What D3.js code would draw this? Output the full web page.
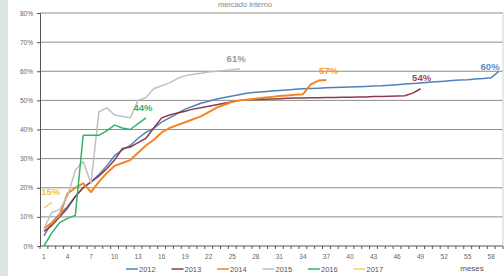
<!DOCTYPE html>
<html>
<head>
<meta charset="utf-8">
<script src="https://cdn.jsdelivr.net/npm/d3@7"></script>
<style>
  body { margin: 0; background: #fff; }
  svg { display: block; font-family: "Liberation Sans", Arial, sans-serif; }
</style>
</head>
<body>
<svg id="svg" width="504" height="276"></svg>
<script>
// months on the category axis and the labelled ones
const months = d3.range(1, 60);
const monthLabels = d3.range(1, 59, 3);
const yTicks = [0, 10, 20, 30, 40, 50, 60, 70, 80];

const years = ['2012', '2013', '2014', '2015', '2016', '2017'];
const colors = ['#4f81bd', '#8e3a4c', '#f3861f', '#c0c0c0', '#2fb56a', '#fad160'];
const labelColors = ['#5b8cc8', '#a04458', '#f39a3a', '#9a9a9a', '#2fb56a', '#f2c443'];
const endLabels = ['60%', '54%', '57%', '61%', '44%', '15%'];

const s2012 = [3.5, 8, 11, 13.5, 17, 20, 22, 24.5, 27.5, 31, 33, 34.5, 37, 39, 40.5, 42.5, 44, 45.5, 47, 48,
  49, 49.7, 50.5, 51, 51.5, 52, 52.5, 52.8, 53, 53.2, 53.4, 53.6, 53.8, 54, 54.1, 54.2, 54.3, 54.4, 54.5, 54.6,
  54.7, 54.8, 54.9, 55, 55.2, 55.4, 55.6, 55.8, 56, 56.2, 56.4, 56.6, 56.8, 57, 57.1, 57.3, 57.5, 57.8, 60];
const s2013 = [5, 7, 10, 13, 17, 20, 22, 24, 26.5, 29.5, 33.5, 34, 35.5, 37, 40.5, 44, 45, 45.7, 46.3, 47,
  47.5, 48, 48.5, 49, 49.5, 50, 50.2, 50.3, 50.4, 50.5, 50.6, 50.7, 50.8, 50.8, 50.9, 50.9, 51, 51, 51.1, 51.1,
  51.2, 51.2, 51.3, 51.3, 51.4, 51.5, 51.6, 52.5, 54];
const s2014 = [6, 8, 10.5, 18, 20, 21.5, 18.5, 22, 25, 27.5, 28.5, 29.5, 32, 34.5, 36.5, 39, 40.5, 41.5, 42.5, 43.5,
  44.5, 46, 47.5, 48.5, 49.5, 50, 50.3, 50.6, 50.9, 51.2, 51.5, 51.7, 51.9, 52.1, 55.5, 56.8, 57];
const s2015 = [6, 11.5, 12.5, 17, 26, 29, 21.5, 46, 47.5, 45, 44.5, 44, 50, 51, 54, 55, 56, 57.5, 58.5, 59,
  59.3, 59.7, 60, 60.3, 60.5, 60.8];
const s2016 = [0, 4.5, 8, 9.5, 10.5, 38, 38, 38, 39.5, 41.5, 40.5, 40, 42, 44];
const s2017 = [13, 15];

const series = [s2012, s2013, s2014, s2015, s2016, s2017];
// pixel offsets of the end labels from each series' last point
const labelOffsets = [[-9, -1], [1, -8], [2, -6], [-4, -7], [-3, -7], [-1, -7]];

const svg = d3.select('#svg');
const plotLeft = 40, plotRight = 503, plotTop = 13, plotBottom = 246;

svg.append('rect').attr('x', 0).attr('y', 0).attr('width', 8).attr('height', 276).attr('fill', '#dbe4df');

svg.append('text').attr('x', 245).attr('y', 7).attr('text-anchor', 'middle')
  .attr('font-size', 7.5).attr('fill', '#888').text('mercado interno');

const band = d3.scaleBand().domain(months).range([plotLeft, plotRight]);
const x = d3.scalePoint().domain(months).range([plotLeft, plotRight]).padding(0.5);
const y = d3.scaleLinear().domain([0, 80]).range([plotBottom, plotTop]);

// grid
svg.append('g').selectAll('line').data(yTicks.filter(d => d > 0)).enter().append('line')
  .attr('x1', plotLeft).attr('x2', plotRight).attr('y1', d => y(d)).attr('y2', d => y(d))
  .attr('stroke', '#8c8c8c').attr('stroke-width', 1);
svg.append('line').attr('x1', plotRight).attr('x2', plotRight).attr('y1', plotTop).attr('y2', plotBottom)
  .attr('stroke', '#d0d0d0');

// y axis
const yAxis = svg.append('g').attr('transform', `translate(${plotLeft},0)`)
  .call(d3.axisLeft(y).tickValues(yTicks).tickSize(3).tickFormat(d => d + '%'));
yAxis.select('.domain').attr('stroke', '#555');
yAxis.selectAll('.tick line').attr('stroke', '#555');
yAxis.selectAll('text').attr('font-size', 6.5).attr('fill', '#666').attr('x', -7);

// x axis
svg.append('line').attr('x1', plotLeft).attr('x2', plotRight).attr('y1', plotBottom).attr('y2', plotBottom).attr('stroke', '#555');
svg.append('g').selectAll('line').data(months.concat(['end'])).enter().append('line')
  .attr('x1', d => d === 'end' ? plotRight : band(d)).attr('x2', d => d === 'end' ? plotRight : band(d))
  .attr('y1', plotBottom).attr('y2', plotBottom + 3).attr('stroke', '#555');
svg.append('g').selectAll('text').data(monthLabels).enter().append('text')
  .attr('x', d => x(d)).attr('y', 259).attr('text-anchor', 'middle')
  .attr('font-size', 6.5).attr('fill', '#666').text(d => d);

// lines
const line = d3.line().x((d, i) => x(months[i])).y(d => y(d));
series.forEach((s, k) => {
  svg.append('path').datum(s).attr('d', line).attr('fill', 'none')
    .attr('stroke', colors[k]).attr('stroke-width', k === 2 ? 2 : 1.5).attr('stroke-linejoin', 'round');
  const last = s.length - 1;
  svg.append('text')
    .attr('x', x(months[last]) + labelOffsets[k][0])
    .attr('y', y(s[last]) + labelOffsets[k][1])
    .attr('text-anchor', 'middle').attr('font-size', 9.5).attr('font-weight', 'bold')
    .attr('fill', labelColors[k]).text(endLabels[k]);
});

// legend
const legendX = [126, 171.5, 217, 262.5, 308, 353.5];
const legend = svg.append('g').selectAll('g').data(years).enter().append('g')
  .attr('transform', (d, i) => `translate(${legendX[i]},269)`);
legend.append('line').attr('x1', 0).attr('x2', 12).attr('y1', 0).attr('y2', 0)
  .attr('stroke', (d, i) => colors[i]).attr('stroke-width', 1.5);
legend.append('text').attr('x', 13).attr('y', 2.5).attr('font-size', 7.5).attr('fill', '#555').text(d => d);

svg.append('text').attr('x', 472).attr('y', 271).attr('text-anchor', 'middle')
  .attr('font-size', 8).attr('fill', '#555').text('meses');
</script>
</body>
</html>
